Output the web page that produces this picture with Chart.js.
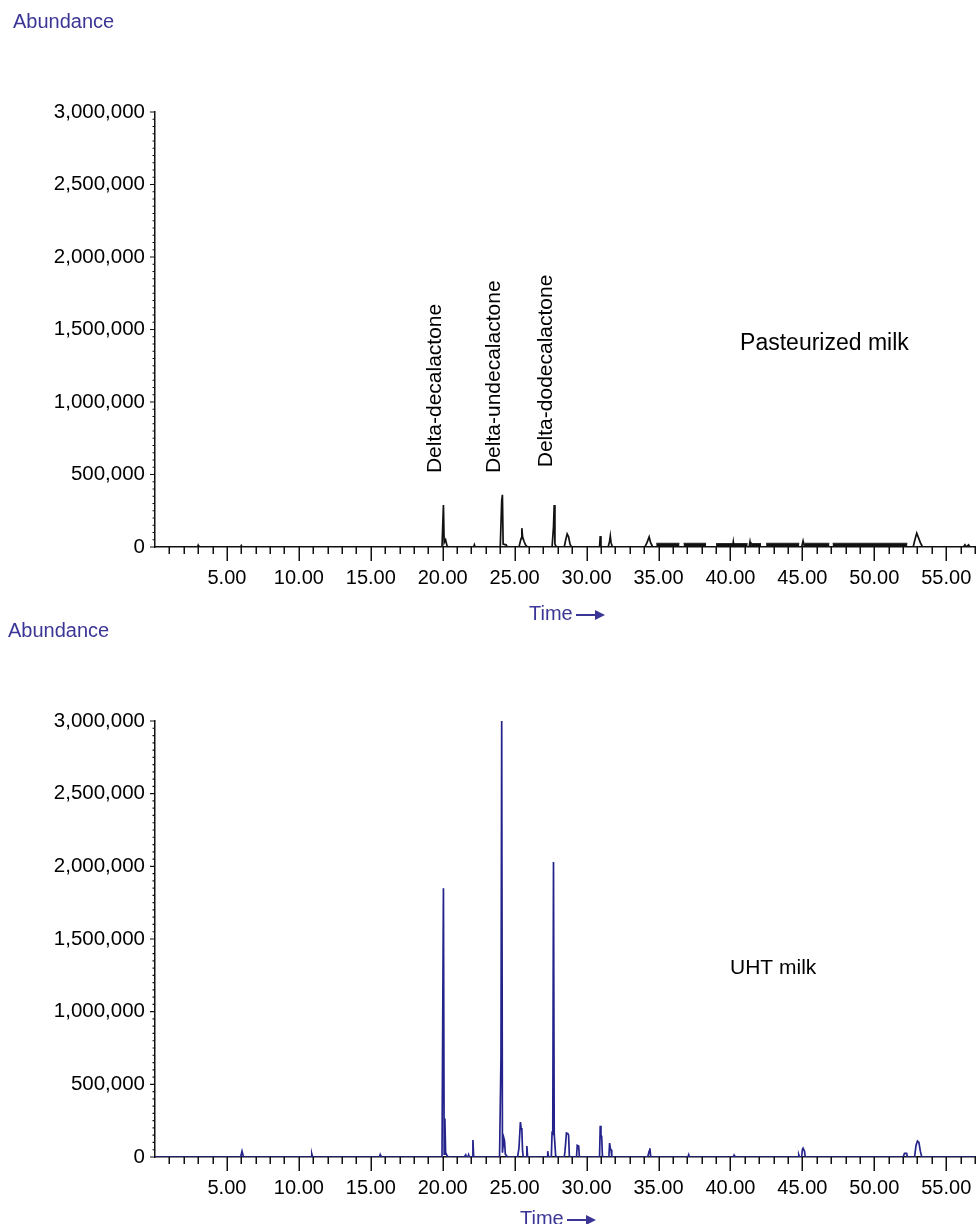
<!DOCTYPE html>
<html>
<head>
<meta charset="utf-8">
<script src="https://cdn.jsdelivr.net/npm/chart.js@4.4.1/dist/chart.umd.min.js"></script>
<style>
html,body{margin:0;padding:0;background:#fff;}
#wrap{position:relative;width:976px;height:1224px;overflow:hidden;font-family:"Liberation Sans",Arial,sans-serif;}
.cv{position:absolute;left:0;width:976px;height:612px;}
.lbl{position:absolute;color:#3b3696;font-size:20px;line-height:24px;white-space:nowrap;}
.arrow{display:inline-block;vertical-align:middle;width:19px;height:2px;background:#3b3696;position:relative;margin-left:3px;margin-right:10px;}
.arrow:after{content:"";position:absolute;right:-10px;top:-4px;border-left:10px solid #3b3696;border-top:5px solid transparent;border-bottom:5px solid transparent;}
</style>
</head>
<body>
<div id="wrap">
  <div class="cv" style="top:0"><canvas id="c1" width="976" height="612"></canvas></div>
  <div class="cv" style="top:612px"><canvas id="c2" width="976" height="612"></canvas></div>
  <div class="lbl" style="left:13px;top:9px;">Abundance</div>
  <div class="lbl" style="left:529px;top:601px;">Time<span class="arrow"></span></div>
  <div class="lbl" style="left:8px;top:618px;">Abundance</div>
  <div class="lbl" style="left:520px;top:1206px;">Time<span class="arrow"></span></div>
</div>
<script>
// ---------------- DATA ----------------
const yTickValues = [0, 500000, 1000000, 1500000, 2000000, 2500000, 3000000];
const xTickLabels = ['5.00','10.00','15.00','20.00','25.00','30.00','35.00','40.00','45.00','50.00','55.00'];

// Pasteurized milk chromatogram (time, min / abundance)
const pasteurizedTime = [
  0, 2.95, 3.0, 3.05, 5.95, 6.0, 6.05,
  19.95, 20.05, 20.1, 20.2, 20.3, 20.4,
  22.15, 22.2, 22.25,
  24.0, 24.1, 24.15, 24.2, 24.4, 24.5,
  25.3, 25.45, 25.5, 25.55, 25.65, 25.75, 25.9,
  27.6, 27.7, 27.75, 27.8, 27.9,
  28.45, 28.55, 28.65, 28.75, 28.85, 28.95,
  30.9, 30.95, 31.0,
  31.5, 31.6, 31.65, 31.7, 31.8,
  34.05, 34.2, 34.35, 34.45, 34.6,
  40.15, 40.2, 40.25,
  41.3, 41.36, 41.42,
  44.95, 45.05, 45.15,
  52.7, 52.85, 52.95, 53.05, 53.2, 53.35,
  56.2, 56.3, 56.4, 56.55, 56.65, 57
];
const pasteurizedAbundance = [
  0, 0, 12000, 0, 0, 10000, 0,
  0, 290000, 30000, 50000, 8000, 0,
  0, 15000, 0,
  0, 320000, 360000, 20000, 15000, 0,
  0, 60000, 130000, 70000, 40000, 15000, 0,
  0, 140000, 290000, 20000, 0,
  0, 50000, 90000, 70000, 20000, 0,
  0, 75000, 0,
  0, 40000, 75000, 30000, 0,
  0, 30000, 70000, 30000, 0,
  0, 35000, 0,
  0, 35000, 0,
  0, 42000, 0,
  0, 60000, 95000, 70000, 30000, 0,
  0, 15000, 0, 15000, 0, 0
];
// dense baseline noise band of the pasteurized trace
const pasteurizedNoiseStart = [34.84, 36.74, 39.0, 41.44, 42.48, 45.14, 47.1];
const pasteurizedNoiseEnd   = [36.46, 38.31, 41.2, 42.13, 44.79, 46.88, 52.3];
const pasteurizedNoiseLevel = [26000, 26000, 24000, 24000, 26000, 26000, 26000];

// UHT milk chromatogram
const uhtTime = [
  0, 5.95, 6.05, 6.15, 10.85, 10.9, 10.95, 15.6, 15.65, 15.7,
  19.95, 20.05, 20.1, 20.15, 20.2, 20.3, 20.4,
  21.5, 21.6, 21.65, 21.75, 21.8, 21.85,
  22.05, 22.1, 22.15,
  23.95, 24.05, 24.1, 24.15, 24.25, 24.3, 24.35, 24.5,
  25.2, 25.3, 25.4, 25.45, 25.5, 25.55, 25.6,
  25.8, 25.85, 25.9,
  27.25, 27.3, 27.35,
  27.55, 27.6, 27.65, 27.7, 27.75, 27.8, 27.85, 27.95,
  28.45, 28.5, 28.6, 28.7, 28.75, 28.8, 28.85,
  29.3, 29.35, 29.45, 29.5,
  30.9, 30.95, 31.0, 31.05, 31.1, 31.15,
  31.55, 31.6, 31.65, 31.7, 31.75,
  34.25, 34.35, 34.4, 34.45, 34.5,
  37.05, 37.1, 37.15,
  40.2, 40.25, 40.3,
  44.7, 44.75, 44.8,
  44.95, 45.0, 45.05, 45.15, 45.2,
  52.0, 52.1, 52.25, 52.3,
  52.8, 52.9, 53.0, 53.1, 53.2, 53.3,
  57
];
const uhtAbundance = [
  0, 0, 40000, 0, 0, 20000, 0, 0, 15000, 0,
  0, 1850000, 20000, 265000, 30000, 10000, 0,
  0, 15000, 0, 0, 15000, 0,
  0, 117000, 0,
  0, 690000, 3000000, 30000, 130000, 110000, 20000, 0,
  0, 60000, 240000, 200000, 185000, 40000, 0,
  0, 75000, 0,
  0, 40000, 0,
  0, 165000, 160000, 2030000, 160000, 160000, 10000, 0,
  0, 40000, 165000, 160000, 150000, 10000, 0,
  0, 80000, 75000, 0,
  0, 215000, 150000, 140000, 10000, 0,
  0, 96000, 60000, 50000, 0,
  0, 40000, 60000, 10000, 0,
  0, 15000, 0,
  0, 12000, 0,
  0, 15000, 0,
  0, 50000, 60000, 40000, 0,
  0, 25000, 25000, 0,
  0, 80000, 110000, 100000, 40000, 0,
  0
];

// compound annotations (top chart)
const peakNames = ['Delta-decalactone', 'Delta-undecalactone', 'Delta-dodecalactone'];
const peakTimes = [20.05, 24.15, 27.75];
const peakLabelBase = [510000, 510000, 550000];

// sample names
const sampleNames = ['Pasteurized milk', 'UHT milk'];
const sampleLabelTime = [40.67, 39.97];
const sampleLabelAbundance = [1403000, 1300000];

// ---------------- CHARTS ----------------
Chart.defaults.font.family = '"Liberation Sans", Arial, Helvetica, sans-serif';
Chart.defaults.color = '#000';

function pts(xs, ys) { return xs.map((x, i) => ({ x: x, y: ys[i] })); }
function noisePts(starts, ends, levels) {
  const out = [];
  starts.forEach((s, i) => {
    out.push({ x: s, y: levels[i] });
    out.push({ x: ends[i], y: levels[i] });
    out.push({ x: ends[i] + 0.01, y: null });
  });
  return out;
}
function fmt(v) { return String(v).replace(/\B(?=(\d{3})+(?!\d))/g, ','); }

const tickPlugin = {
  id: 'chromTicks',
  afterDraw(chart) {
    const ctx = chart.ctx, xs = chart.scales.x, ys = chart.scales.y;
    const yb = ys.getPixelForValue(0), xl = xs.getPixelForValue(xs.min);
    ctx.save();
    ctx.strokeStyle = '#111';
    ctx.lineWidth = 1.5;
    ctx.beginPath();
    for (let t = xs.min + 1; t <= xs.max + 0.001; t += 1) {
      const px = Math.round(xs.getPixelForValue(t)) + 0.25;
      const len = (t % 5 === 0) ? 14 : 7;
      ctx.moveTo(px, yb); ctx.lineTo(px, yb + len);
    }
    ctx.stroke();
    ctx.lineWidth = 1.2;
    ctx.beginPath();
    for (let v = 0; v <= ys.max + 1; v += 50000) {
      const py = ys.getPixelForValue(v);
      const len = (v % 500000 === 0) ? 5 : 2.5;
      ctx.moveTo(xl - len, py); ctx.lineTo(xl, py);
    }
    ctx.stroke();
    ctx.restore();
  }
};

const annotPlugin = {
  id: 'chromAnnot',
  afterDatasetsDraw(chart, args, opts) {
    const ctx = chart.ctx, xs = chart.scales.x, ys = chart.scales.y;
    ctx.save();
    ctx.fillStyle = '#000';
    (opts.rotated || []).forEach(a => {
      const x = xs.getPixelForValue(a.t) - 8, y = ys.getPixelForValue(a.v);
      ctx.save();
      ctx.translate(x, y);
      ctx.rotate(-Math.PI / 2);
      ctx.font = '21px "Liberation Sans", Arial, sans-serif';
      ctx.textAlign = 'left';
      ctx.textBaseline = 'middle';
      ctx.fillText(a.text, 0, 0);
      ctx.restore();
    });
    (opts.labels || []).forEach(a => {
      ctx.font = a.size + 'px "Liberation Sans", Arial, sans-serif';
      ctx.textAlign = 'left';
      ctx.textBaseline = 'middle';
      ctx.fillText(a.text, xs.getPixelForValue(a.t), ys.getPixelForValue(a.v));
    });
    ctx.restore();
  }
};

function makeChart(id, datasets, pad, annot) {
  return new Chart(document.getElementById(id), {
    type: 'scatter',
    data: { datasets: datasets },
    options: {
      responsive: false,
      animation: false,
      events: [],
      layout: { padding: pad },
      elements: { point: { radius: 0 }, line: { tension: 0 } },
      plugins: { legend: { display: false }, tooltip: { enabled: false }, chromAnnot: annot },
      scales: {
        x: {
          type: 'linear', min: 0, max: 57,
          grid: { display: false, drawTicks: false },
          border: { display: true, color: '#111', width: 1.5 },
          afterFit(s) { s.height = 50; s.paddingLeft = 0; s.paddingRight = 0; },
          ticks: {
            stepSize: 1, autoSkip: false, maxRotation: 0, minRotation: 0, padding: 19,
            color: '#000', font: { size: 20 },
            callback: (v) => xTickLabels.indexOf(Number(v).toFixed(2)) >= 0 ? Number(v).toFixed(2) : ''
          }
        },
        y: {
          type: 'linear', min: 0, max: 3000000,
          grid: { display: false, drawTicks: false },
          border: { display: true, color: '#111', width: 1.5 },
          afterFit(s) { s.width = 155; s.paddingTop = 0; s.paddingBottom = 0; },
          afterBuildTicks(s) { s.ticks = yTickValues.map(v => ({ value: v })); },
          ticks: { padding: 10, color: '#000', font: { size: 20.5 }, callback: (v) => fmt(v) }
        }
      }
    },
    plugins: [tickPlugin, annotPlugin]
  });
}

makeChart('c1', [
  { label: 'noise', data: noisePts(pasteurizedNoiseStart, pasteurizedNoiseEnd, pasteurizedNoiseLevel),
    showLine: true, borderWidth: 0.8, borderColor: '#111', backgroundColor: '#111', fill: 'origin', spanGaps: false },
  { label: 'Pasteurized milk', data: pts(pasteurizedTime, pasteurizedAbundance),
    showLine: true, borderWidth: 1.7, borderColor: '#111', fill: false }
], { top: 112, bottom: 15, left: 0, right: 1 }, {
  rotated: peakNames.map((n, i) => ({ text: n, t: peakTimes[i], v: peakLabelBase[i] })),
  labels: [{ text: sampleNames[0], t: sampleLabelTime[0], v: sampleLabelAbundance[0], size: 23 }]
});

makeChart('c2', [
  { label: 'UHT milk', data: pts(uhtTime, uhtAbundance),
    showLine: true, borderWidth: 1.7, borderColor: '#24238c', fill: false }
], { top: 109, bottom: 17, left: 0, right: 1 }, {
  rotated: [],
  labels: [{ text: sampleNames[1], t: sampleLabelTime[1], v: sampleLabelAbundance[1], size: 21 }]
});
</script>
</body>
</html>
